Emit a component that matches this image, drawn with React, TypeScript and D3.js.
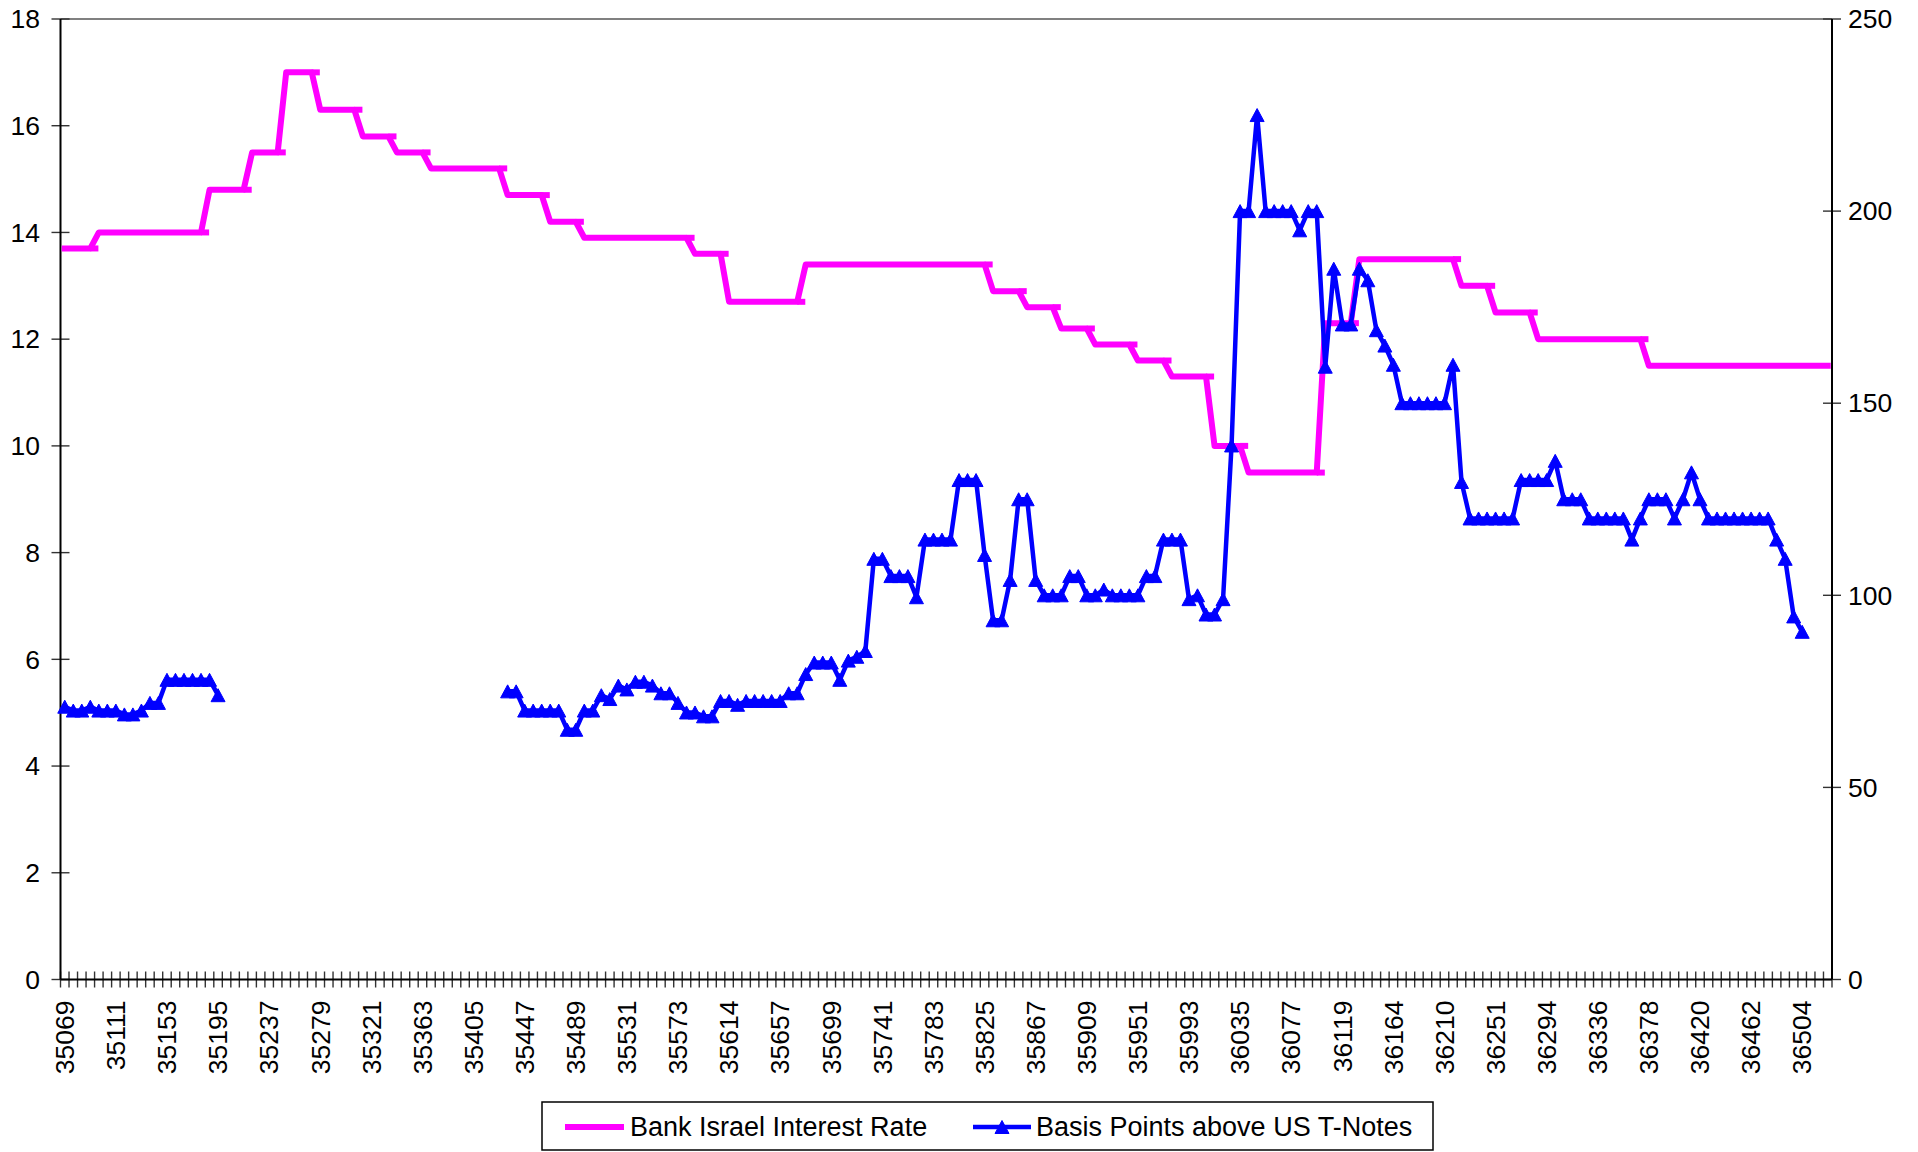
import React from 'react';
import * as d3 from 'd3';

// ---------- data ----------
const xTickLabels: string[] = [
  '35069', '35111', '35153', '35195', '35237', '35279', '35321', '35363', '35405',
  '35447', '35489', '35531', '35573', '35614', '35657', '35699', '35741', '35783',
  '35825', '35867', '35909', '35951', '35993', '36035', '36077', '36119', '36164',
  '36210', '36251', '36294', '36336', '36378', '36420', '36462', '36504',
];
const labelEvery = 6;

const seriesNames: string[] = ['Bank Israel Interest Rate', 'Basis Points above US T-Notes'];

// Bank Israel Interest Rate (left axis, %), one value per weekly category
const bankIsraelRate: number[] = [
  13.7, 13.7, 13.7, 13.7,
  14, 14, 14, 14, 14, 14, 14, 14, 14, 14, 14, 14, 14,
  14.8, 14.8, 14.8, 14.8, 14.8,
  15.5, 15.5, 15.5, 15.5,
  17, 17, 17, 17,
  16.3, 16.3, 16.3, 16.3, 16.3,
  15.8, 15.8, 15.8, 15.8,
  15.5, 15.5, 15.5, 15.5,
  15.2, 15.2, 15.2, 15.2, 15.2, 15.2, 15.2, 15.2, 15.2,
  14.7, 14.7, 14.7, 14.7, 14.7,
  14.2, 14.2, 14.2, 14.2,
  13.9, 13.9, 13.9, 13.9, 13.9, 13.9, 13.9, 13.9, 13.9, 13.9, 13.9, 13.9, 13.9,
  13.6, 13.6, 13.6, 13.6,
  12.7, 12.7, 12.7, 12.7, 12.7, 12.7, 12.7, 12.7, 12.7,
  13.4, 13.4, 13.4, 13.4, 13.4, 13.4, 13.4, 13.4, 13.4, 13.4, 13.4,
  13.4, 13.4, 13.4, 13.4, 13.4, 13.4, 13.4, 13.4, 13.4, 13.4, 13.4,
  12.9, 12.9, 12.9, 12.9,
  12.6, 12.6, 12.6, 12.6,
  12.2, 12.2, 12.2, 12.2,
  11.9, 11.9, 11.9, 11.9, 11.9,
  11.6, 11.6, 11.6, 11.6,
  11.3, 11.3, 11.3, 11.3, 11.3,
  10, 10, 10, 10,
  9.5, 9.5, 9.5, 9.5, 9.5, 9.5, 9.5, 9.5, 9.5,
  12.3, 12.3, 12.3, 12.3,
  13.5, 13.5, 13.5, 13.5, 13.5, 13.5, 13.5, 13.5, 13.5, 13.5, 13.5, 13.5,
  13, 13, 13, 13,
  12.5, 12.5, 12.5, 12.5, 12.5,
  12, 12, 12, 12, 12, 12, 12, 12, 12, 12, 12, 12, 12,
  11.5, 11.5, 11.5, 11.5, 11.5, 11.5, 11.5, 11.5, 11.5, 11.5, 11.5,
  11.5, 11.5, 11.5, 11.5, 11.5, 11.5, 11.5, 11.5, 11.5, 11.5, 11.5,
];

// Basis points above US T-Notes (right axis), null = no observation
const basisPoints: (number | null)[] = [
  71, 70, 70, 71, 70, 70, 70, 69, 69, 70, 72, 72, 78, 78, 78, 78, 78, 78, 74,
  null, null, null, null, null, null, null, null, null, null, null,
  null, null, null, null, null, null, null, null, null, null, null,
  null, null, null, null, null, null, null, null, null, null, null,
  75, 75, 70, 70, 70, 70, 70, 65, 65,
  70, 70, 74, 73, 76.5, 75.5, 77.5, 77.5, 76.5, 74.5,
  74.5, 72, 69.5, 69.5, 68.5, 68.5, 72.5, 72.5, 71.5, 72.5,
  72.5, 72.5, 72.5, 72.5, 74.5, 74.5, 79.5, 82.5, 82.5, 82.5,
  78, 83, 84, 85.5, 109.5, 109.5, 105, 105, 105, 99.5,
  114.5, 114.5, 114.5, 114.5, 130, 130, 130, 110.5, 93.5, 93.5,
  104, 125, 125, 104, 100, 100, 100, 105, 105, 100,
  100, 101.5, 100, 100, 100, 100, 105, 105, 114.5, 114.5,
  114.5, 99, 100, 95, 95, 99, 139, 200, 200, 225,
  200, 200, 200, 200, 195, 200, 200, 159.5, 185, 170.5,
  170.5, 185, 182, 169, 165, 160, 150, 150, 150, 150,
  150, 150, 160, 129.5, 120, 120, 120, 120, 120, 120,
  130, 130, 130, 130, 135, 125, 125, 125, 120, 120,
  120, 120, 120, 114.5, 120, 125, 125, 125, 120, 125,
  132, 125, 120, 120, 120, 120, 120, 120, 120, 120,
  114.5, 109.5, 94.5, 90.5, null, null, null,
];

const leftTicks: number[] = [0, 2, 4, 6, 8, 10, 12, 14, 16, 18];
const rightTicks: number[] = [0, 50, 100, 150, 200, 250];

// ---------- styles ----------
const FONT = '"Liberation Sans", Arial, Helvetica, sans-serif';
const PINK = '#FF00FF';
const BLUE = '#0000FF';
const TRI = 'M0,-6.5L7,6.5L-7,6.5Z';

export default function App() {
  const W = 1918;
  const H = 1152;
  const L = 60.5;
  const R = 1832;
  const T = 19;
  const B = 979.5;

  const idx = d3.range(bankIsraelRate.length);
  const x = d3.scaleBand<number>().domain(idx).range([L, R]).padding(0);
  const bw = x.bandwidth();
  const cx = (i: number) => (x(i) as number) + bw / 2;
  const yL = d3.scaleLinear().domain([0, 18]).range([B, T]);
  const yR = d3.scaleLinear().domain([0, 250]).range([B, T]);

  const pinkPath = d3
    .line<number>()
    .x((_, i) => cx(i))
    .y((d) => yL(d))(bankIsraelRate) as string;

  const bluePath = d3
    .line<number | null>()
    .defined((d) => d != null)
    .x((_, i) => cx(i))
    .y((d) => yR(d as number))(basisPoints) as string;

  const stepTicks = idx.filter(
    (i) => i < bankIsraelRate.length - 1 && bankIsraelRate[i + 1] !== bankIsraelRate[i]
  );

  const fs = 26.5;
  const lfs = 27;
  const legY = 1127;

  return (
    <svg
      width={W}
      height={H}
      viewBox={`0 0 ${W} ${H}`}
      style={{ position: 'absolute', left: 0, top: 0, display: 'block', background: '#fff' }}
      fontFamily={FONT}
    >
      <rect x={0} y={0} width={W} height={H} fill="#fff" />
      {/* plot border */}
      <line x1={L} x2={R} y1={T} y2={T} stroke="#808080" strokeWidth={2} />

      {/* x category ticks (between categories) */}
      {d3.range(bankIsraelRate.length + 1).map((k) => {
        const xx = L + k * bw;
        return <line key={`xt${k}`} x1={xx} x2={xx} y1={B - 8} y2={B + 8} stroke="#333" strokeWidth={1.4} />;
      })}
      {/* left ticks */}
      {leftTicks.map((t) => (
        <line key={`lt${t}`} x1={L - 9} x2={L + 9} y1={yL(t)} y2={yL(t)} stroke="#333" strokeWidth={1.4} />
      ))}
      {/* right ticks */}
      {rightTicks.map((t) => (
        <line key={`rt${t}`} x1={R - 9} x2={R + 9} y1={yR(t)} y2={yR(t)} stroke="#333" strokeWidth={1.4} />
      ))}
      {/* axes */}
      <line x1={L} x2={L} y1={T} y2={B} stroke="#000" strokeWidth={2} />
      <line x1={R} x2={R} y1={T} y2={B} stroke="#000" strokeWidth={2} />
      <line x1={L} x2={R} y1={B} y2={B} stroke="#000" strokeWidth={2} />

      {/* left labels */}
      {leftTicks.map((t) => (
        <text key={`ll${t}`} x={40} y={yL(t)} dy="0.35em" textAnchor="end" fontSize={fs} fill="#000">
          {t}
        </text>
      ))}
      {/* right labels */}
      {rightTicks.map((t) => (
        <text key={`rl${t}`} x={R + 16} y={yR(t)} dy="0.35em" textAnchor="start" fontSize={fs} fill="#000">
          {t}
        </text>
      ))}
      {/* x labels */}
      {xTickLabels.map((lab, k) => {
        const xx = cx(k * labelEvery);
        return (
          <text
            key={`xl${k}`}
            transform={`translate(${xx},${B + 21}) rotate(-90)`}
            textAnchor="end"
            dy="0.35em"
            fontSize={fs}
            fill="#000"
          >
            {lab}
          </text>
        );
      })}

      {/* pink series */}
      <path d={pinkPath} fill="none" stroke={PINK} strokeWidth={6} strokeLinejoin="round" strokeLinecap="square" />
      {stepTicks.map((i) => (
        <line
          key={`st${i}`}
          x1={cx(i)}
          x2={cx(i) + bw * 0.95}
          y1={yL(bankIsraelRate[i])}
          y2={yL(bankIsraelRate[i])}
          stroke={PINK}
          strokeWidth={6}
        />
      ))}

      {/* blue series */}
      <path d={bluePath} fill="none" stroke={BLUE} strokeWidth={4.5} strokeLinejoin="round" />
      {basisPoints.map((d, i) =>
        d == null ? null : (
          <path key={`m${i}`} d={TRI} transform={`translate(${cx(i)},${yR(d)})`} fill={BLUE} stroke={BLUE} strokeWidth={1} />
        )
      )}

      {/* legend */}
      <rect x={542} y={1102} width={891} height={48} fill="#fff" stroke="#000" strokeWidth={1.5} />
      <line x1={565} x2={624} y1={legY} y2={legY} stroke={PINK} strokeWidth={6} />
      <text x={630} y={legY} dy="0.35em" fontSize={lfs} fill="#000">
        {seriesNames[0]}
      </text>
      <line x1={973} x2={1031} y1={legY} y2={legY} stroke={BLUE} strokeWidth={4.5} />
      <path d={TRI} transform={`translate(${(973 + 1031) / 2},${legY})`} fill={BLUE} stroke={BLUE} strokeWidth={1} />
      <text x={1036} y={legY} dy="0.35em" fontSize={lfs} fill="#000">
        {seriesNames[1]}
      </text>
    </svg>
  );
}
